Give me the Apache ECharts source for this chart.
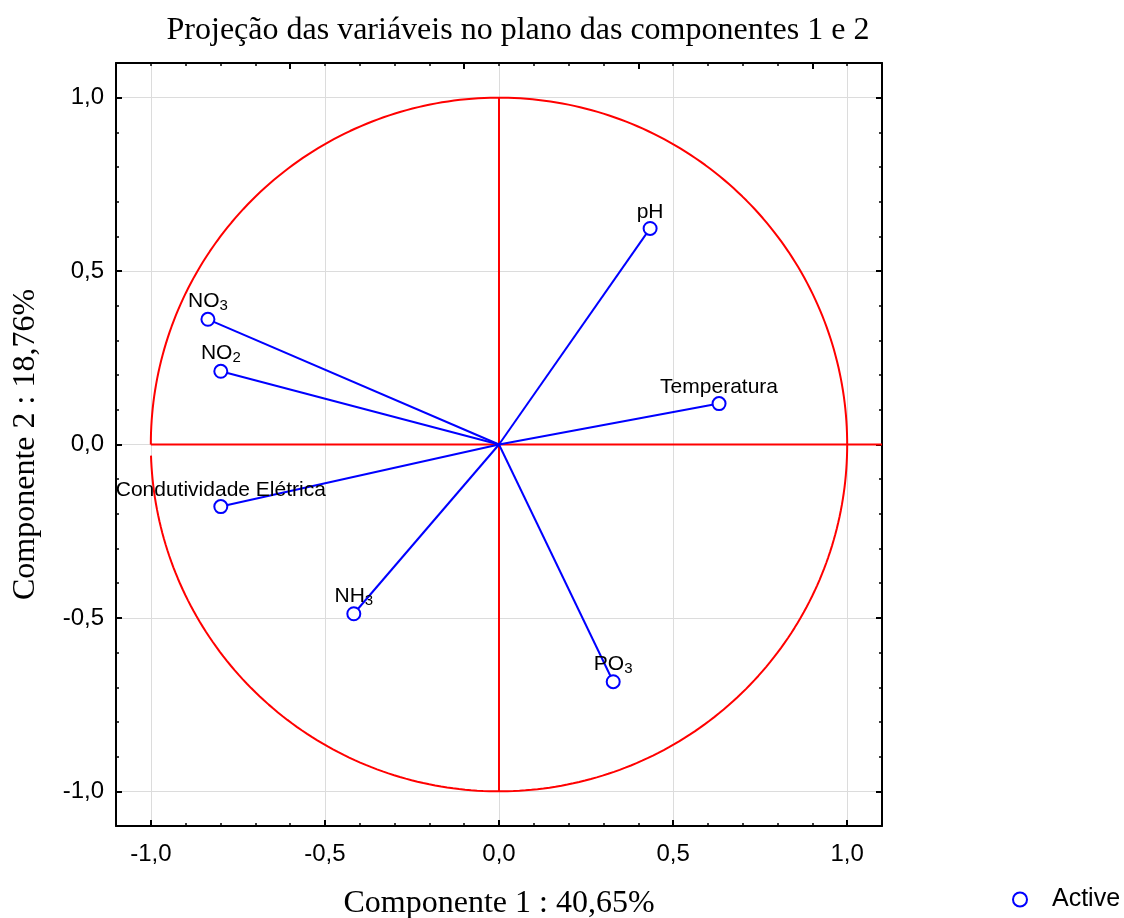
<!DOCTYPE html>
<html>
<head>
<meta charset="utf-8">
<script src="https://cdn.jsdelivr.net/npm/echarts@6/dist/echarts.min.js"></script>
<style>
  html, body { margin: 0; padding: 0; background: #fff; }
  #chart { width: 1124px; height: 918px; }
</style>
</head>
<body>
<div id="chart"></div>
<script>
// Variables projected on the plane of principal components 1 and 2
const variableNames = ['pH', 'Temperatura', 'NO3', 'NO2', 'Condutividade Elétrica', 'NH3', 'PO3'];
const labelMain = ['pH', 'Temperatura', 'NO', 'NO', 'Condutividade Elétrica', 'NH', 'PO'];
const labelSub  = ['', '', '3', '2', '', '3', '3'];
const comp1 = [0.434, 0.632, -0.836, -0.799, -0.799, -0.417, 0.328];
const comp2 = [0.623, 0.118, 0.361, 0.211, -0.179, -0.488, -0.684];

const titleText = 'Projeção das variáveis no plano das componentes 1 e 2';
const xName = 'Componente 1 : 40,65%';
const yName = 'Componente 2 : 18,76%';
const seriesName = 'Active';

// Correlation circle (radius 1) and the two red reference axes
const circleStartGap = 0.032; // small opening just below the left end of the horizontal axis
const unitCircle = [];
for (let k = 0; k <= 360; k++) {
  const t = Math.PI + circleStartGap + (2 * Math.PI - circleStartGap) * k / 360;
  unitCircle.push([Math.cos(t), Math.sin(t)]);
}
const redHorizontal = [[-1, 0], [1.1, 0]];
const redVertical = [[0, 1], [0, -1]];

const AXIS_MIN = -1.1, AXIS_MAX = 1.1;
const fmt = v => (Math.abs(v) > 1.0001 ? '' : v.toFixed(1).replace('.', ','));

const sansFont = 'Liberation Sans, Arial, sans-serif';
const serifFont = 'Liberation Serif, Times New Roman, serif';

const black = '#000';
const lineBlack = { show: true, onZero: false, lineStyle: { color: black, width: 2 } };
const noLine = { show: false, onZero: false };

function majorAxis(extra) {
  return Object.assign({
    type: 'value', min: AXIS_MIN, max: AXIS_MAX,
    minInterval: 0.5, maxInterval: 0.5,
    axisLine: lineBlack,
    axisTick: { show: true, inside: true, length: 6, lineStyle: { color: black, width: 2 } },
    splitLine: { show: true, lineStyle: { color: '#dcdcdc', width: 1 } },
    axisLabel: { show: true, formatter: fmt, fontFamily: sansFont, fontSize: 24, color: black },
    minorTick: { show: false }
  }, extra);
}
function minorAxis(extra) {
  return Object.assign({
    type: 'value', min: AXIS_MIN, max: AXIS_MAX, interval: 0.1,
    axisLine: noLine,
    axisTick: { show: true, inside: true, length: 3, lineStyle: { color: black, width: 1.5 } },
    splitLine: { show: false },
    axisLabel: { show: false }
  }, extra);
}

const chart = echarts.init(document.getElementById('chart'), null, { renderer: 'canvas' });

chart.setOption({
  animation: false,
  backgroundColor: '#fff',
  title: {
    text: titleText,
    left: 513, top: 10, textAlign: 'center',
    textStyle: { fontFamily: serifFont, fontSize: 32, fontWeight: 'normal', color: black }
  },
  legend: {
    data: [seriesName],
    left: 1007, top: 882,
    itemWidth: 14, itemHeight: 14,
    icon: 'circle',
    itemStyle: { color: '#ffffff', borderColor: '#0000ff', borderWidth: 2 },
    textStyle: { fontFamily: sansFont, fontSize: 25, color: black, padding: [0, 0, 0, 20] }
  },
  grid: { left: 116, right: 242, top: 63, bottom: 92, containLabel: false, outerBoundsMode: 'none' },
  xAxis: [
    majorAxis({
      position: 'bottom',
      axisLabel: { show: true, formatter: fmt, fontFamily: sansFont, fontSize: 24, color: black, margin: 16 },
      name: xName, nameLocation: 'middle', nameGap: 62, nameMoveOverlap: false,
      nameTextStyle: { fontFamily: serifFont, fontSize: 32, color: black }
    }),
    minorAxis({ position: 'bottom' }),
    // top border: ticks every 0.5 counted from the left edge
    {
      type: 'value', position: 'top', min: 0, max: 2.2, interval: 0.5,
      axisLine: lineBlack,
      axisTick: { show: true, inside: true, length: 6, lineStyle: { color: black, width: 2 } },
      splitLine: { show: false }, axisLabel: { show: false }
    },
    {
      type: 'value', position: 'top', min: 0, max: 2.2, interval: 0.1,
      axisLine: noLine,
      axisTick: { show: true, inside: true, length: 3, lineStyle: { color: black, width: 1.5 } },
      splitLine: { show: false }, axisLabel: { show: false }
    }
  ],
  yAxis: [
    majorAxis({
      position: 'left',
      axisLabel: { show: true, formatter: fmt, fontFamily: sansFont, fontSize: 24, color: black, margin: 12 },
      name: yName, nameLocation: 'middle', nameGap: 74, nameMoveOverlap: false,
      nameTextStyle: { fontFamily: serifFont, fontSize: 32, color: black }
    }),
    minorAxis({ position: 'left' }),
    majorAxis({ position: 'right', splitLine: { show: false }, axisLabel: { show: false } }),
    minorAxis({ position: 'right' })
  ],
  series: [
    {
      type: 'line', data: unitCircle, showSymbol: false, silent: true,
      lineStyle: { color: '#ff0000', width: 2 }, z: 2
    },
    {
      type: 'line', data: redHorizontal, showSymbol: false, silent: true,
      lineStyle: { color: '#ff0000', width: 2 }, z: 2
    },
    {
      type: 'line', data: redVertical, showSymbol: false, silent: true,
      lineStyle: { color: '#ff0000', width: 2 }, z: 2
    },
    {
      type: 'lines', coordinateSystem: 'cartesian2d', silent: true, z: 3,
      lineStyle: { color: '#0000ff', width: 2, opacity: 1, curveness: 0 },
      data: variableNames.map((n, i) => ({ coords: [[0, 0], [comp1[i], comp2[i]]] }))
    },
    {
      name: seriesName,
      type: 'scatter', z: 4,
      symbol: 'emptyCircle', symbolSize: 13,
      itemStyle: { color: '#0000ff', borderColor: '#0000ff', borderWidth: 2, opacity: 1 },
      data: variableNames.map((n, i) => ({ name: n, value: [comp1[i], comp2[i]] })),
      label: {
        show: true, position: 'top', distance: -2,
        fontFamily: sansFont, fontSize: 21, color: black, opacity: 1,
        textBorderWidth: 0,
        formatter: p => {
          const i = p.dataIndex;
          const main = '{m|' + labelMain[i] + '}';
          return labelSub[i] ? main + '{s|' + labelSub[i] + '}' : main;
        },
        rich: {
          m: { fontFamily: sansFont, fontSize: 21, color: black },
          s: { fontFamily: sansFont, fontSize: 15, color: black, padding: [10, 0, 0, 0] }
        }
      }
    }
  ]
});
</script>
</body>
</html>
